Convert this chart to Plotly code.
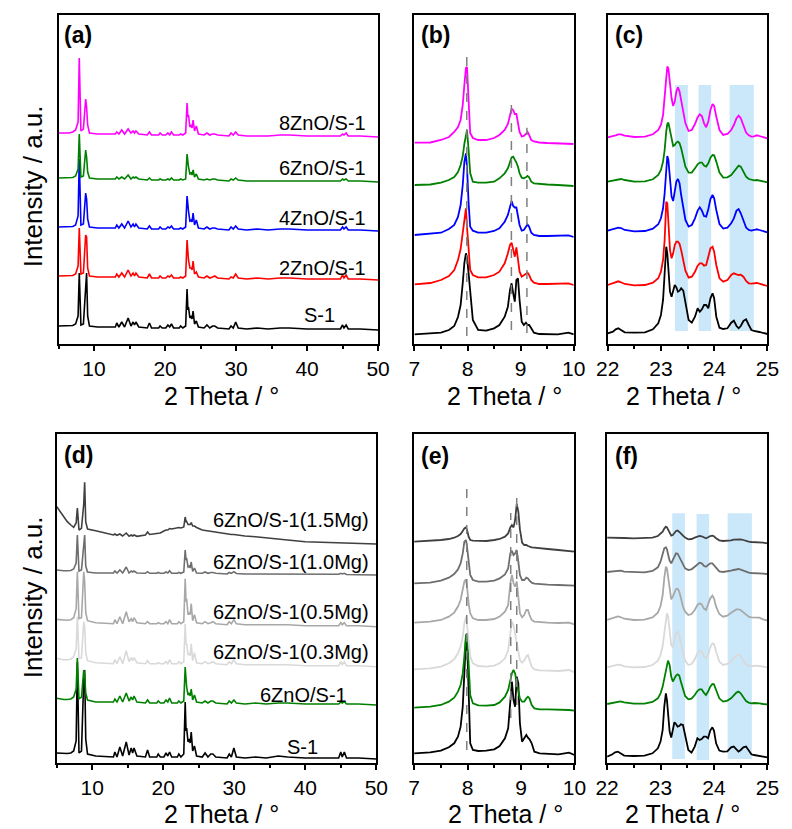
import plotly.graph_objects as go

W, H = 792, 829
FONT = "Arial, Liberation Sans, sans-serif"

# ------------------------------------------------------------------ data
# wide scans (a) and (d): shared 2-theta vertices
XA = [5.0, 5.5, 6.0, 6.5, 7.0, 7.4, 7.75, 7.92, 8.15, 8.5,
      8.82, 8.95, 9.1, 9.35, 10.5, 13.0, 13.2, 13.5, 13.9, 14.3,
      14.8, 15.2, 15.5, 15.7, 15.9, 16.3, 17.5, 17.8, 18.1, 19.1,
      19.3, 19.6, 20.1, 20.4, 20.65, 20.9, 21.2, 22.0, 22.2, 22.5,
      22.9, 23.1, 23.22, 23.3, 23.5, 23.7, 23.8, 23.95, 24.15, 24.4,
      24.7, 25.5, 25.9, 26.3, 26.7, 27.0, 27.4, 29.0, 29.3, 29.6,
      29.95, 30.3, 31.5, 33.0, 34.5, 36.2, 37.5, 40.0, 44.7, 45.0,
      45.2, 45.5, 45.8, 47.5, 50.0]

A_S1 = [4, 4, 4, 4, 4.5, 6, 14, 57, 5, 6,
        50, 57, 14, 4, 3, 3, 7, 3, 8, 3,
        12, 4, 8, 5, 8, 3, 2, 7, 2, 2,
        4, 2, 2, 5, 3, 6, 2, 2, 4, 2,
        4, 41, 20, 23, 12, 14, 11, 19, 6, 9,
        3, 2, 5, 2, 4, 4, 2, 1, 4, 2,
        8, 2, 1, 2, 1, 2, 2, 1, 1, 5,
        2, 5, 1, 1, 0]
A_2ZN = [4, 4, 4, 4, 4.5, 6, 14, 52, 6, 7,
         45, 43, 12, 4, 3, 3, 6, 3, 7, 3,
         10, 4, 7, 4, 7, 3, 2, 6, 2, 2,
         4, 2, 2, 4, 3, 5, 2, 2, 3, 2,
         4, 40, 22, 20, 12, 12, 10, 19, 6, 8,
         3, 2, 4, 2, 3, 4, 2, 1, 3, 2,
         6, 2, 1, 2, 1, 2, 2, 1, 1, 5,
         2, 5, 1, 1, 0]
A_4ZN = [4, 4, 4, 4, 4.5, 6, 15, 72, 6, 7,
         38, 32, 12, 4, 3, 3, 6, 3, 7, 3,
         10, 4, 7, 4, 7, 3, 2, 5, 2, 2,
         4, 2, 2, 4, 3, 5, 2, 2, 3, 2,
         4, 35, 20, 20, 10, 11, 9, 18, 6, 11,
         3, 2, 4, 2, 3, 3, 2, 1, 4, 2,
         5, 2, 1, 2, 1, 2, 2, 1, 1, 4,
         2, 4, 1, 1, 0]
A_6ZN = [4, 4, 4, 4, 4.5, 6, 13, 48, 5, 6,
         32, 25, 10, 4, 3, 3, 5, 3, 5, 3,
         7, 3, 5, 4, 5, 3, 2, 4, 2, 2,
         3, 2, 2, 3, 2, 4, 2, 2, 3, 2,
         3, 28, 15, 15, 8, 9, 7, 12, 5, 8,
         3, 2, 3, 2, 3, 3, 2, 1, 3, 2,
         4, 2, 1, 1, 1, 1, 1, 1, 1, 3,
         2, 3, 1, 1, 0]
A_8ZN = [4, 4, 4, 4, 5, 7, 15, 79, 6, 8,
         38, 30, 12, 4, 3, 3, 5, 3, 7, 3,
         8, 4, 6, 4, 6, 3, 2, 5, 2, 2,
         4, 2, 2, 4, 2, 5, 2, 2, 3, 2,
         4, 34, 20, 22, 10, 12, 9, 17, 6, 11,
         3, 2, 4, 2, 3, 3, 2, 1, 4, 2,
         5, 2, 1, 1, 1, 2, 2, 1, 1, 3,
         2, 4, 1, 1, 0]

D_S1 = [6, 5.7, 5.5, 5.5, 6, 8, 18, 97, 6, 8,
        80, 89, 20, 5, 3, 2, 7, 2, 12, 3,
        17, 4, 11, 6, 11, 3, 2, 9, 2, 2,
        5, 2, 2, 6, 3, 7, 2, 2, 5, 2,
        5, 57, 28, 31, 17, 20, 16, 27, 8, 13,
        3, 2, 6, 2, 5, 5, 2, 1, 5, 2,
        11, 2, 1, 2, 1, 3, 2, 1, 1, 7,
        2, 7, 1, 1, 0]
D_6ZN = [6.7, 6, 5.5, 5.5, 6, 8, 16, 47, 6, 8,
         35, 30, 12, 5, 3, 3, 6, 3, 9, 3,
         12, 4, 8, 5, 9, 3, 2, 5, 2, 2,
         4, 2, 2, 5, 3, 7, 2, 2, 4, 2,
         4, 38, 20, 18, 10, 12, 9, 16, 5, 10,
         3, 2, 4, 2, 4, 4, 2, 1, 4, 2,
         5, 2, 1, 2, 1, 2, 2, 1, 1, 3,
         2, 3.5, 1, 1, 0]
D_03MG = [8.3, 7.5, 7, 7, 7.5, 10, 18, 50, 8, 9,
          45, 40, 14, 6, 4, 3, 7, 3, 10, 3,
          16, 5, 9, 6, 9, 4, 3, 6, 3, 3,
          4, 3, 3, 5, 3, 7, 3, 3, 5, 3,
          5, 43, 22, 23, 12, 13, 11, 23, 6, 14,
          4, 3, 5, 3, 4, 5, 3, 2, 5, 3,
          7, 3, 2, 2, 2, 2, 2, 1, 1, 5,
          2, 5, 1, 1, 0]
D_05MG = [7.3, 7, 6.5, 6.5, 7, 9, 18, 55, 8, 9,
          55, 45, 14, 6, 4, 3, 7, 3, 10, 3,
          15, 5, 8, 5, 9, 4, 3, 5, 3, 3,
          4, 3, 3, 5, 3, 7, 3, 3, 5, 3,
          5, 48, 25, 28, 12, 14, 12, 23, 6, 12,
          4, 3, 5, 3, 4, 5, 3, 2, 5, 3,
          7, 3, 2, 2, 2, 2, 2, 1, 1, 4,
          2, 4, 1, 1, 0]
D_10MG = [5, 4.5, 4.3, 4.3, 4.5, 6, 12, 40, 4, 5,
          36, 40, 9, 3, 2, 2, 4, 2, 5, 2,
          8, 2, 4, 3, 4, 2, 1.7, 3.3, 1.7, 1.7,
          2.5, 1.7, 1.7, 3, 2, 4.3, 1.7, 1.7, 2.5, 1.7,
          3, 25, 15, 17, 8, 9, 7, 13, 3.5, 7,
          2, 1.7, 3, 1.7, 2.5, 2.5, 1.7, 1, 2.5, 1.7,
          3.3, 1.5, 1, 1, 1, 1.3, 1.3, 0.7, 0.7, 1.7,
          1, 1.7, 0.5, 0.3, 0]
D_15MG = [37.5, 32, 27.3, 22.3, 19, 16.7, 21, 36, 14, 15.7,
          40, 61.7, 22, 15, 13.3, 9, 10, 8.7, 10, 8,
          11, 7.7, 9, 8, 9, 7.7, 9, 12, 9.5, 10.3,
          11, 11, 13, 14, 14, 15.5, 15, 15.7, 16.5, 16,
          17, 27, 22, 22.5, 19.5, 20, 19.5, 21.5, 18, 18,
          16.5, 14, 13.5, 13, 12.7, 12.5, 12, 10, 10, 9.5,
          9.5, 9, 8, 7.3, 6, 5, 4, 2.3, 1, 1,
          0.8, 1.3, 0.7, 0.3, 0]

# narrow scans 7-10 deg: (b) and (e)
XB = [7.0, 7.3, 7.5, 7.65, 7.75, 7.82, 7.87, 7.91, 7.94, 7.97,
      7.99, 8.02, 8.05, 8.1, 8.2, 8.35, 8.5, 8.6, 8.7, 8.76,
      8.8, 8.83, 8.86, 8.89, 8.92, 8.95, 8.98, 9.02, 9.06, 9.1,
      9.13, 9.16, 9.2, 9.25, 9.35, 9.5, 9.7, 9.9, 10.0]

B_8ZN = [1.3, 1.5, 4, 7, 12, 17, 24, 39, 59, 76,
         77, 37, 11, 6, 4, 4, 6, 9, 14, 20,
         29, 35, 34, 30, 30, 20, 12, 7.5, 8, 10,
         12, 9, 4, 2.5, 1.5, 1, 0.5, 0.5, 0]
B_6ZN = [1, 1.5, 3.3, 6, 9, 14, 21, 30, 42, 53,
         56, 36, 13, 4.3, 3.3, 3.3, 4.3, 7.7, 12.7, 17.7,
         24.3, 28.5, 29.3, 26.7, 23.3, 19.3, 12.7, 8.3, 7.7, 8.7,
         10, 8.7, 4.3, 2.7, 2, 1.5, 1, 0.5, 0]
B_4ZN = [2, 3, 4.3, 8, 12, 20, 32, 52, 75, 83.7,
         70, 34, 10.3, 6.3, 4.3, 4.3, 6, 8.7, 15.3, 22,
         32, 36, 31, 29.5, 29.5, 20.3, 12, 6.3, 7, 10.3,
         12.5, 10.3, 4.3, 2, 1, 1, 1, 1.7, 0]
B_2ZN = [0.7, 2, 5, 9, 15, 25, 36, 52, 68, 76.7,
         58, 32, 15, 10, 7.7, 7.7, 10, 13.3, 21.7, 31.7,
         40, 42.3, 35, 28.3, 37.7, 25, 13.3, 8.3, 10, 11.7,
         12.3, 10, 5, 2.3, 1, 1, 1, 1.7, 0]
B_S1 = [0.7, 1.5, 2.3, 5, 9, 18, 30, 52, 72, 81.7,
        78, 61.7, 45, 15, 5, 4.3, 6.7, 10, 18.3, 28.3,
        45, 51.7, 41.7, 33.3, 55, 56.7, 35, 13.3, 10, 12.3,
        10, 10, 6.7, 2.3, 1, 0.7, 0.7, 2.3, 0.7]

E_15MG = [10, 10.7, 11.7, 12.7, 14, 15.7, 17.7, 20.7, 23.3, 24.3,
          21.7, 15, 11.7, 11, 10.7, 10.7, 11.7, 12.7, 15, 18.3,
          24.3, 26.7, 24.3, 31.7, 47.7, 40, 22.3, 9, 6.7, 6.7,
          5.7, 5, 4.3, 4, 3.3, 2.7, 1.7, 0.7, 0]
E_10MG = [2.3, 3, 5, 8, 11.7, 16.3, 22.3, 32.3, 44, 45.7,
          39, 20.7, 10.7, 5.7, 4, 4, 5, 7.3, 11.3, 17.3,
          32.3, 35, 30.7, 32.3, 35.7, 24, 10.7, 5.7, 5.7, 8,
          7.3, 5, 3, 2, 1.3, 1, 0.7, 0.3, 0]
E_05MG = [1.7, 2.7, 4.3, 7.7, 11.7, 17.7, 24.3, 34.3, 42.7, 45,
          37.7, 21, 11, 6, 4.3, 4.3, 5.3, 7.7, 12.7, 19.3,
          41, 49.3, 41, 37.7, 42.7, 27.7, 11, 7, 9.3, 14.3,
          14.3, 9.3, 4.3, 2.7, 2, 1.7, 1.3, 1.7, 0]
E_03MG = [3, 4, 5.7, 9, 13, 19, 25.7, 35.7, 49, 55.7,
          47.3, 29, 15.7, 9, 6.3, 5.7, 6.7, 9, 14, 22.3,
          40.7, 50.7, 47.3, 39, 32.3, 22.3, 12.3, 9.7, 11.7, 15.7,
          17.3, 12.3, 5.7, 3, 2, 1.7, 1.3, 2.3, 0]
E_6ZN = [3, 4, 5.7, 9, 13, 19, 25.7, 37.3, 54, 75.7,
         77.3, 40.7, 15.7, 7.3, 5.3, 5, 5.7, 8.3, 14, 20.7,
         30.7, 37.3, 40.7, 37.3, 27.3, 20.7, 12.3, 9, 9, 12.3,
         14, 12.3, 5.7, 2.3, 1.3, 1.3, 1.3, 0.7, 0]
E_S1 = [1.7, 2.7, 4.3, 7.7, 11.7, 18.3, 28.3, 48.3, 81.7, 116.7,
        115, 61.7, 11.7, 5, 4, 4.3, 5.7, 9, 16.7, 26.7,
        55, 73.3, 55, 48.3, 78.3, 71.7, 31.7, 13.3, 16.7, 20,
        17.3, 15.7, 11.7, 3.3, 1.7, 1, 0.7, 2.3, 0]

# narrow scans 22-25 deg: (c) and (f)
XC = [22.0, 22.1, 22.15, 22.2, 22.25, 22.32, 22.5, 22.7, 22.85, 22.95,
      23.0, 23.04, 23.07, 23.1, 23.12, 23.14, 23.17, 23.2, 23.23, 23.26,
      23.29, 23.32, 23.35, 23.38, 23.42, 23.46, 23.52, 23.58, 23.64, 23.69,
      23.73, 23.77, 23.81, 23.85, 23.89, 23.93, 23.97, 24.0, 24.04, 24.1,
      24.17, 24.25, 24.32, 24.37, 24.42, 24.46, 24.5, 24.55, 24.6, 24.65,
      24.7, 24.75, 24.8, 24.85, 24.92, 25.0]

C_8ZN = [1, 2, 3, 4, 4, 2.7, 1.3, 1.7, 4, 8.3,
         13.3, 23.3, 38.3, 60, 71.7, 70, 55, 40, 32.3, 36.7,
         46.7, 51, 46.7, 38.3, 25, 15, 7.3, 8.3, 14.3, 21,
         24, 22.3, 15, 11, 16.7, 28.3, 34.3, 32.3, 21.7, 8.3,
         3.3, 4.3, 8.3, 13.3, 20, 22.7, 20, 11.7, 5.7, 3,
         1.7, 2, 3, 2.3, 1, 0]
C_6ZN = [0.7, 1.7, 2.7, 3.3, 3.3, 2.3, 0.7, 1, 3, 7.3,
         12.3, 20.7, 32.3, 50.7, 58.3, 59.7, 52.3, 42.3, 36.3, 37.3,
         39.7, 40.7, 39, 34, 24, 15.7, 9.7, 9.7, 14, 18,
         19.7, 19.7, 16.7, 15.7, 19, 24.7, 27.3, 27, 20.7, 9.7,
         4.7, 5, 7.3, 10.7, 14.7, 16.7, 15.7, 10.7, 5.7, 3.3,
         2.3, 2, 2.3, 2, 1, 0]
C_4ZN = [1.7, 3, 4, 4.7, 4.3, 2.3, 1, 1.3, 3.7, 8,
         14, 24, 39, 65.7, 76.3, 72.3, 52.3, 35.7, 31.3, 40.7,
         50.7, 53.3, 49, 37.3, 22.3, 12.3, 5.7, 7.3, 14, 21.7,
         25, 21.7, 16.3, 15.7, 23, 33.3, 37.3, 34, 22.3, 8.3,
         3.7, 4.7, 9, 14, 21.7, 23.3, 19, 10.7, 4.7, 2.3,
         1.7, 2.3, 3, 2.3, 1, 0]
C_2ZN = [1, 2.7, 4, 4.7, 3.7, 2, 0.7, 1, 3.3, 7.7,
         14.3, 26, 46, 84.3, 82.7, 59.3, 36, 27.7, 32.7, 41,
         44.3, 44.3, 42, 36, 24.3, 15.3, 8.3, 9.3, 14.3, 20.3,
         22.7, 22.7, 20.3, 21, 29.3, 37.7, 39.3, 34.3, 21, 7.7,
         4.3, 6, 11, 12.7, 11.7, 11, 11.3, 9.3, 5, 2.7,
         2.3, 2.7, 3, 2.3, 1, 0]
C_S1 = [0.7, 2.3, 4.7, 5.7, 4, 1.7, 1.3, 1.7, 4.7, 10.7,
        19, 34, 60.7, 87.3, 80.7, 60.7, 42.3, 37.3, 44.7, 49,
        46.7, 42.3, 43.3, 45.7, 43.3, 30.7, 14, 11.3, 17.3, 25.7,
        22.3, 24.7, 29, 29, 25.7, 35.7, 40.7, 35.7, 17.3, 6.3,
        5, 5.7, 11.3, 13.3, 8, 5.7, 8, 13, 14.7, 9,
        4, 3, 2.7, 2, 1, 0]

F_15MG = [5.7, 5.7, 5.7, 6, 5.7, 5.3, 5, 5, 5.7, 7.3,
          9.3, 11.7, 14.7, 16.7, 16, 14, 10, 7.7, 8.3, 10.7,
          12.3, 12.7, 11.7, 10, 7.7, 5.7, 4, 4.3, 5.7, 6.7,
          7.3, 7, 5.7, 5, 6, 7.3, 7.7, 7, 5, 3,
          2.3, 2.3, 3, 3.7, 4, 4.3, 4, 3.3, 2.3, 1.7,
          1.3, 1.3, 1.3, 1, 0.7, 0]
F_10MG = [2, 2.7, 3.3, 3.7, 3.3, 2.3, 1.7, 1.7, 3, 6.7,
          12.3, 20, 25.7, 26.7, 24.7, 20, 13.3, 10.7, 14, 18.3,
          20.7, 20.3, 17.3, 13.3, 9, 5.7, 4, 4.7, 7.3, 10,
          11.3, 10.7, 8.3, 7.3, 8.7, 10.7, 10.7, 9, 5.7, 2.7,
          2, 2.3, 3.3, 4, 4.7, 5, 4.3, 3.3, 2, 1.3,
          1, 1, 1, 0.7, 0.3, 0]
F_05MG = [0.7, 2.3, 3.7, 4.3, 3.7, 2, 0.7, 1, 3.3, 8,
          14.7, 25.7, 42.3, 54, 52.3, 44, 29, 21.3, 24, 29,
          31.7, 32, 29, 23, 14, 9, 5.7, 6.7, 10.7, 15.7,
          17.3, 16.3, 12.3, 10.7, 15.7, 22.3, 25, 22.3, 14, 6.7,
          4, 5, 8, 10, 11.3, 11.3, 10.7, 8.3, 5.7, 4,
          3.3, 3.3, 3.7, 3, 1.3, 0]
F_03MG = [0, 1.3, 2.3, 2.7, 2.3, 1, 0, 0.3, 2.3, 6.7,
          12.3, 21.3, 34, 49, 54, 51.3, 35.7, 22.3, 20, 27.3,
          34, 35.7, 32.3, 24, 14, 6.7, 2.3, 3.3, 8, 14,
          16.7, 15.7, 11.3, 9, 12.3, 20, 24, 23.3, 15.7, 5.7,
          2.3, 3.3, 5.7, 9, 11.7, 13, 11.3, 6.7, 3, 1.7,
          1.3, 1.3, 1.7, 1.3, 0.7, 0]
F_6ZN = [0.3, 1.3, 2.3, 3, 3, 2, 0.7, 0.7, 2.3, 6,
         11, 17.7, 26, 36, 41, 43.7, 39.3, 27.7, 22.7, 26,
         28.7, 30, 28.7, 22.7, 14.3, 8.3, 5, 5.7, 9.3, 13.3,
         15, 15, 11.7, 9.3, 12.7, 17.7, 20.3, 20, 14.3, 6,
         2.7, 3.7, 6, 8.7, 11.7, 12.7, 11, 7, 3.3, 1.7,
         1, 1.3, 1.3, 1, 0.3, 0]
F_S1 = [0.7, 3, 5, 5.7, 4, 1.7, 1.3, 1.7, 4, 9,
        15.7, 27.3, 50.7, 64, 57.3, 42.3, 25.7, 19.7, 29, 35,
        33.3, 30.7, 31.3, 33, 32.3, 22.3, 7.3, 4.7, 10.7, 19,
        17.3, 18.3, 20.7, 20.7, 19, 26.7, 30, 26.7, 14, 6.7,
        5.7, 6, 10, 10.7, 7.3, 5.7, 7.3, 10, 10.7, 6.7,
        3, 2.3, 2, 1.3, 0.7, 0]

# stacking offsets (a.u.) for each series, bottom to top
OFF_A = [14, 64, 113, 162, 207]
OFF_B = [9, 59, 107, 158, 200]
OFF_C = [10, 58, 111.7, 161.7, 205.7]
OFF_D = [4, 58, 96.3, 136.3, 188, 219]
OFF_E = [8, 52.3, 90.7, 138.7, 177.3, 211.3]
OFF_F = [5.7, 58.7, 95.7, 142.3, 189, 219.7]

TOP_NAMES = ["S-1", "2ZnO/S-1", "4ZnO/S-1", "6ZnO/S-1", "8ZnO/S-1"]
BOT_NAMES = ["S-1", "6ZnO/S-1", "6ZnO/S-1(0.3Mg)", "6ZnO/S-1(0.5Mg)",
             "6ZnO/S-1(1.0Mg)", "6ZnO/S-1(1.5Mg)"]

# reference positions (2-theta) of dashed guide lines and shaded bands
GUIDES_B = [7.986, 8.826, 9.118]
GUIDES_E = [7.985, 8.808, 8.92]
BANDS_C = [(23.264, 23.506), (23.707, 23.944), (24.29, 24.745)]
BANDS_F = [(23.22, 23.457), (23.675, 23.91), (24.256, 24.71)]

for arr in [A_S1, A_2ZN, A_4ZN, A_6ZN, A_8ZN, D_S1, D_6ZN, D_03MG, D_05MG, D_10MG, D_15MG]:
    assert len(arr) == len(XA), len(arr)
for arr in [B_8ZN, B_6ZN, B_4ZN, B_2ZN, B_S1, E_15MG, E_10MG, E_05MG, E_03MG, E_6ZN, E_S1]:
    assert len(arr) == len(XB), len(arr)
for arr in [C_8ZN, C_6ZN, C_4ZN, C_2ZN, C_S1, F_15MG, F_10MG, F_05MG, F_03MG, F_6ZN, F_S1]:
    assert len(arr) == len(XC), len(arr)

# ------------------------------------------------------------------ styles
TOP_COLORS = ["#000000", "#ff0000", "#0000ff", "#008000", "#ff00ff"]
BOT_COLORS = ["#000000", "#008000", "#d9d9d9", "#a8a8a8", "#6e6e6e", "#404040"]

# panel boxes in pixels: (left, right, top, bottom)
PANELS = [
    dict(box=(48, 377.5, 14.7, 344), xr=[5, 50], dt=10, mn=5),
    dict(box=(415, 579.3, 14.7, 344), xr=[7, 10], dt=1, mn=0.5),
    dict(box=(614.3, 779, 14.7, 344), xr=[22, 25], dt=1, mn=0.5),
    dict(box=(46, 375.7, 434, 763), xr=[5, 50], dt=10, mn=5),
    dict(box=(414.7, 580, 434, 763), xr=[7, 10], dt=1, mn=0.5),
    dict(box=(613.7, 779, 434, 763), xr=[22, 25], dt=1, mn=0.5),
]

fig = go.Figure()


def add_set(idx, xs, series, offsets, colors, width):
    sfx = "" if idx == 1 else str(idx)
    for ys, off, col in zip(series, offsets, colors):
        fig.add_trace(go.Scatter(
            x=xs, y=[v + off for v in ys], mode="lines",
            line=dict(color=col, width=width),
            xaxis="x" + sfx, yaxis="y" + sfx, showlegend=False,
            hoverinfo="skip"))


add_set(1, XA, [A_S1, A_2ZN, A_4ZN, A_6ZN, A_8ZN], OFF_A, TOP_COLORS, 1.6)
add_set(2, XB, [B_S1, B_2ZN, B_4ZN, B_6ZN, B_8ZN], OFF_B, TOP_COLORS, 1.8)
add_set(3, XC, [C_S1, C_2ZN, C_4ZN, C_6ZN, C_8ZN], OFF_C, TOP_COLORS, 1.8)
add_set(4, XA, [D_S1, D_6ZN, D_03MG, D_05MG, D_10MG, D_15MG], OFF_D, BOT_COLORS, 1.6)
add_set(5, XB, [E_S1, E_6ZN, E_03MG, E_05MG, E_10MG, E_15MG], OFF_E, BOT_COLORS, 1.8)
add_set(6, XC, [F_S1, F_6ZN, F_03MG, F_05MG, F_10MG, F_15MG], OFF_F, BOT_COLORS, 1.8)

layout = dict(width=W, height=H, margin=dict(l=0, r=0, t=0, b=0),
              paper_bgcolor="white", plot_bgcolor="white",
              font=dict(family=FONT, color="black"), showlegend=False)

for i, p in enumerate(PANELS, 1):
    sfx = "" if i == 1 else str(i)
    l, r, t, b = p["box"]
    layout["xaxis" + sfx] = dict(
        domain=[l / W, r / W], range=p["xr"], anchor="y" + sfx,
        showline=True, mirror=True, linecolor="black", linewidth=1.5,
        ticks="outside", ticklen=5, tickwidth=1.5, tickcolor="black",
        dtick=p["dt"], tick0=0, tickfont=dict(size=21, family=FONT, color="black"),
        showgrid=False, zeroline=False,
        minor=dict(dtick=p["mn"], tick0=0, ticks="outside", ticklen=3,
                   tickwidth=1.5, tickcolor="black", showgrid=False))
    layout["yaxis" + sfx] = dict(
        domain=[1 - b / H, 1 - t / H], range=[0, b - t], anchor="x" + sfx,
        showline=True, mirror=True, linecolor="black", linewidth=1.5,
        showticklabels=False, ticks="", showgrid=False, zeroline=False)

shapes = []
for x0, x1 in BANDS_C:
    shapes.append(dict(type="rect", xref="x3", yref="y3", x0=x0, x1=x1,
                       y0=13, y1=259, fillcolor="#cbe8fa", line=dict(width=0),
                       layer="below"))
for (x0, x1), (y0, y1) in zip(BANDS_F, [(4, 249.7), (3, 249), (4, 249.7)]):
    shapes.append(dict(type="rect", xref="x6", yref="y6", x0=x0, x1=x1,
                       y0=y0, y1=y1, fillcolor="#cbe8fa", line=dict(width=0),
                       layer="below"))
for gx, (y0, y1) in zip(GUIDES_B, [(8, 295), (14, 245.7), (11, 216.3)]):
    shapes.append(dict(type="line", xref="x2", yref="y2", x0=gx, x1=gx,
                       y0=y0, y1=y1, line=dict(color="#7f7f7f", width=1.5, dash="dash")))
for gx, (y0, y1) in zip(GUIDES_E, [(13, 282), (45, 250), (58, 271.3)]):
    shapes.append(dict(type="line", xref="x5", yref="y5", x0=gx, x1=gx,
                       y0=y0, y1=y1, line=dict(color="#7f7f7f", width=1.5, dash="dash")))
layout["shapes"] = shapes

ann = []


def txt(text, x, y, size, xanchor="center", angle=0, weight="normal"):
    ann.append(dict(text=text,
                    x=x / W, y=1 - y / H, xref="paper", yref="paper",
                    xanchor=xanchor, yanchor="middle", showarrow=False,
                    textangle=angle, borderpad=0,
                    font=dict(size=size, family=FONT, color="black", weight=weight)))


for lab, (x, y) in zip(["(a)", "(b)", "(c)", "(d)", "(e)", "(f)"],
                       [(53, 35), (421, 35), (621, 35), (52.5, 455), (421, 456), (621, 456)]):
    txt(lab, x, y, 23, xanchor="left", weight="bold")

for name, (x, y) in zip(TOP_NAMES, [(334, 315), (366, 268), (366, 218.3), (366, 168.3), (366, 123.5)]):
    txt(name, x, y, 20, xanchor="right")
for name, (x, y) in zip(BOT_NAMES, [(317, 747), (346.7, 695), (369.5, 651.7), (369.5, 611.7),
                                    (369.5, 562), (369.5, 520)]):
    txt(name, x, y, 20, xanchor="right")

XT = "2 Theta / \u00b0"
for x, y in [(216, 396), (508, 396), (692, 396), (216, 814), (509, 814), (691, 814)]:
    txt(XT, x, y, 25)
txt("Intensity / a.u.", 22, 186, 26, angle=-90)
txt("Intensity / a.u.", 22, 597, 26, angle=-90)

layout["annotations"] = ann
fig.update_layout(**layout)
fig.write_html("out.html")
